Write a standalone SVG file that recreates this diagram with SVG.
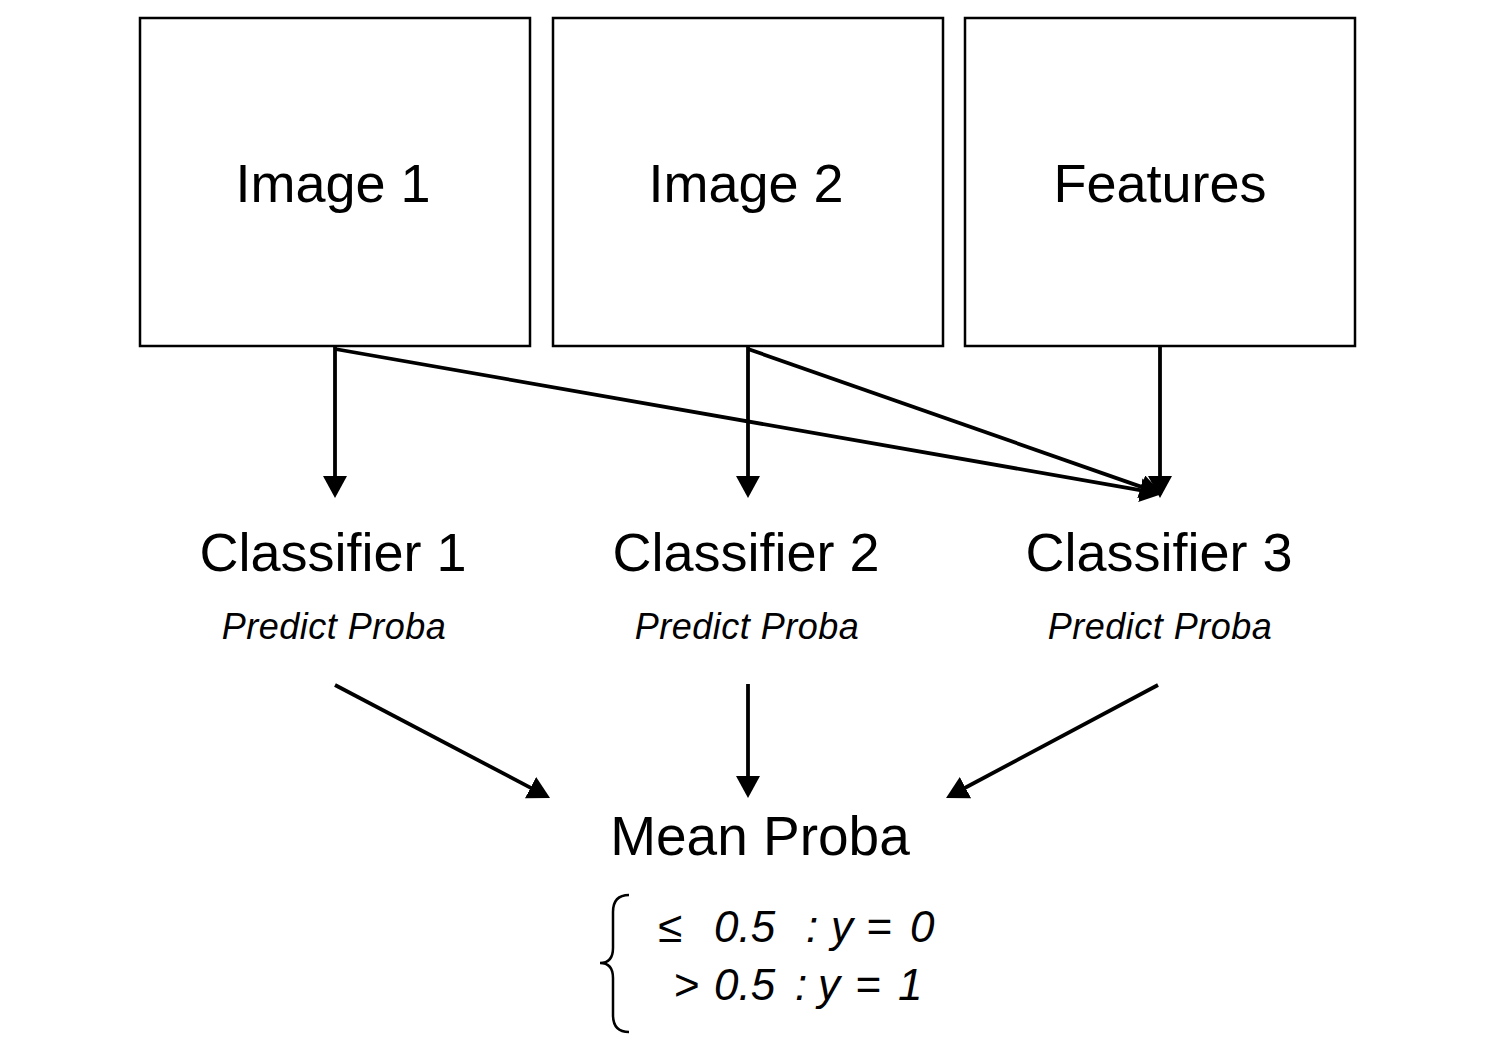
<svg xmlns="http://www.w3.org/2000/svg" width="1496" height="1060" viewBox="0 0 1496 1060">
<style>
.box{fill:#fff;stroke:#000;stroke-width:2.5}
.t{font-family:"Liberation Sans",Arial,sans-serif;fill:#000;text-anchor:middle}
.big{font-size:54px}
.sub{font-size:36px;font-style:italic;letter-spacing:0.5px}
.f{font-family:"Liberation Sans",Arial,sans-serif;font-size:44px;font-style:italic;fill:#000}
.c{fill:none;stroke:#000;stroke-width:3.8}
</style>
<defs>
<marker id="ah" viewBox="0 0 22 24" refX="4" refY="12" markerWidth="22" markerHeight="24" markerUnits="userSpaceOnUse" orient="auto">
<path d="M0,0 L22,12 L0,24 z" fill="#000"/>
</marker>
</defs>
<rect width="1496" height="1060" fill="#fff"/>
<g id="image1"><rect class="box" x="140" y="18" width="390" height="328"/><text class="t big" x="333" y="202">Image 1</text></g>
<g id="image2"><rect class="box" x="553" y="18" width="390" height="328"/><text class="t big" x="746" y="202">Image 2</text></g>
<g id="features"><rect class="box" x="965" y="18" width="390" height="328"/><text class="t big" x="1160" y="202">Features</text></g>
<g id="classifier1"><text class="t big" x="333" y="571">Classifier 1</text><text class="t sub" x="334" y="639">Predict Proba</text></g>
<g id="classifier2"><text class="t big" x="746" y="571">Classifier 2</text><text class="t sub" x="747" y="639">Predict Proba</text></g>
<g id="classifier3"><text class="t big" x="1159" y="571">Classifier 3</text><text class="t sub" x="1160" y="639">Predict Proba</text></g>
<g id="mean"><text class="t" style="font-size:55px" x="760" y="855">Mean Proba</text>
<path d="M629,895 Q613,895 613,912 L613,948 Q613,963 600,963 Q613,963 613,978 L613,1015 Q613,1032 629,1032" fill="none" stroke="#000" stroke-width="2.5"/>
<text class="f" y="942"><tspan x="658" style="font-style:normal">≤</tspan><tspan x="714">0.5</tspan><tspan x="806">:</tspan><tspan x="831">y</tspan><tspan x="866">=</tspan><tspan x="910">0</tspan></text>
<text class="f" y="1000"><tspan x="674" style="font-style:normal">&gt;</tspan><tspan x="714">0.5</tspan><tspan x="795">:</tspan><tspan x="818">y</tspan><tspan x="855">=</tspan><tspan x="898">1</tspan></text>
</g>
<g id="connectors">
<line class="c" x1="335" y1="347" x2="335" y2="480" marker-end="url(#ah)"/>
<line class="c" x1="748" y1="347" x2="748" y2="480" marker-end="url(#ah)"/>
<line class="c" x1="1160" y1="347" x2="1160" y2="480" marker-end="url(#ah)"/>
<line class="c" x1="335" y1="349" x2="1144.3" y2="490.9" marker-end="url(#ah)"/>
<line class="c" x1="748" y1="349" x2="1145" y2="488.1" marker-end="url(#ah)"/>
<line class="c" x1="335" y1="685" x2="534.1" y2="789.6" marker-end="url(#ah)"/>
<line class="c" x1="748" y1="684" x2="748" y2="780" marker-end="url(#ah)"/>
<line class="c" x1="1158" y1="685" x2="961.9" y2="789.5" marker-end="url(#ah)"/>
</g>
</svg>
